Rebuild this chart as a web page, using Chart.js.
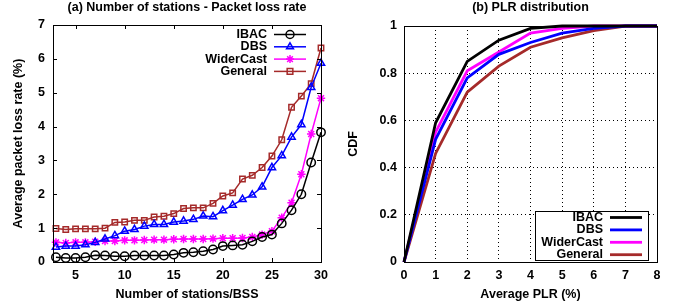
<!DOCTYPE html>
<html><head><meta charset="utf-8">
<script src="https://cdn.jsdelivr.net/npm/chart.js@4/dist/chart.umd.min.js"></script>
<style>
html,body{margin:0;padding:0;background:#fff;}
#wrap{position:relative;width:678px;height:307px;overflow:hidden;}
.c{position:absolute;top:0;width:339px;height:307px;}
</style></head><body>
<div id="wrap">
<div class="c" style="left:0"><canvas id="a"></canvas></div>
<div class="c" style="left:339px"><canvas id="b"></canvas></div>
</div>
<script>
// ---- data ----
const seriesNames = ['IBAC', 'DBS', 'WiderCast', 'General'];
const stations = [3,4,5,6,7,8,9,10,11,12,13,14,15,16,17,18,19,20,21,22,23,24,25,26,27,28,29,30];
const ibacPLR = [0.14,0.12,0.12,0.14,0.20,0.19,0.17,0.17,0.19,0.19,0.19,0.19,0.22,0.27,0.29,0.32,0.37,0.47,0.49,0.51,0.61,0.74,0.81,1.14,1.53,2.00,2.94,3.83];
const dbsPLR = [0.44,0.47,0.47,0.51,0.58,0.68,0.78,0.91,0.96,1.06,1.11,1.11,1.18,1.21,1.26,1.36,1.34,1.52,1.68,1.85,1.98,2.22,2.79,3.14,3.69,4.06,5.16,5.87];
const widerCastPLR = [0.58,0.56,0.58,0.58,0.60,0.62,0.62,0.64,0.64,0.65,0.66,0.66,0.67,0.68,0.68,0.68,0.69,0.70,0.70,0.71,0.74,0.81,0.91,1.31,1.75,2.59,3.78,4.84];
const generalPLR = [0.99,0.96,0.98,0.98,0.98,1.00,1.17,1.18,1.23,1.23,1.33,1.35,1.43,1.58,1.60,1.60,1.73,1.95,2.04,2.45,2.56,2.79,3.13,3.61,4.57,4.90,5.27,6.32];
const stationTicks = [5,10,15,20,25,30];
const plrTicksY = [0,1,2,3,4,5,6,7];

const avgPLR = [0,1,2,3,4,5,6,7,8];
const ibacCDF = [0,0.59,0.85,0.94,0.99,1,1,1,1];
const dbsCDF = [0,0.52,0.78,0.88,0.93,0.97,0.99,1,1];
const widerCastCDF = [0,0.55,0.81,0.89,0.97,0.99,1,1,1];
const generalCDF = [0,0.46,0.72,0.83,0.91,0.95,0.98,1,1];
const cdfTicksY = [0,0.2,0.4,0.6,0.8,1];

// ---- styles ----
const colors = ['#000000', '#0000ff', '#ff00ff', '#a52a2a'];
const markers = ['circle', 'triangle', 'star', 'rect'];
const FONT = "'Liberation Sans', Arial, sans-serif";
const FS = 12.5;
const fB = {family: FONT, size: FS, weight: 'bold', lineHeight: 1.2};

function pts(xs, ys){ return xs.map((x,i)=>({x:x, y:ys[i]})); }

const framePlugin = {
  id: 'frame',
  afterDatasetsDraw(chart, args, opts){
    const {ctx, chartArea: a, scales} = chart;
    ctx.save();
    ctx.strokeStyle = '#000'; ctx.lineWidth = 1;
    ctx.strokeRect(Math.round(a.left)+0.5, Math.round(a.top)+0.5, Math.round(a.right-a.left), Math.round(a.bottom-a.top));
    if (opts.innerTicks) {
      const L = 4;
      ctx.beginPath();
      scales.x.ticks.forEach(t=>{
        const px = Math.round(scales.x.getPixelForValue(t.value))+0.5;
        ctx.moveTo(px, a.bottom); ctx.lineTo(px, a.bottom-L);
        ctx.moveTo(px, a.top); ctx.lineTo(px, a.top+L);
      });
      scales.y.ticks.forEach(t=>{
        const py = Math.round(scales.y.getPixelForValue(t.value))+0.5;
        ctx.moveTo(a.left, py); ctx.lineTo(a.left+L, py);
        ctx.moveTo(a.right, py); ctx.lineTo(a.right-L, py);
      });
      ctx.stroke();
    }
    ctx.restore();
  }
};

const legendPlugin = {
  id: 'customLegend',
  afterDraw(chart, args, o){
    if (!o || !o.items) return;
    const ctx = chart.ctx;
    ctx.save();
    if (o.box) {
      ctx.fillStyle = '#fff';
      ctx.fillRect(o.box[0], o.box[1], o.box[2], o.box[3]);
      ctx.strokeStyle = '#000'; ctx.lineWidth = 1;
      ctx.strokeRect(o.box[0]+0.5, o.box[1]+0.5, o.box[2], o.box[3]);
    }
    ctx.font = "bold " + FS + "px " + FONT;
    ctx.textAlign = 'right'; ctx.textBaseline = 'middle';
    o.items.forEach((it, i)=>{
      const y = o.y0 + i*o.dy;
      ctx.fillStyle = '#000';
      ctx.fillText(it.text, o.textRight, y);
      ctx.strokeStyle = it.color; ctx.lineWidth = o.lineWidth;
      ctx.beginPath(); ctx.moveTo(o.lineX0, y); ctx.lineTo(o.lineX1, y); ctx.stroke();
      if (it.marker && Chart.helpers && Chart.helpers.drawPoint) {
        ctx.lineWidth = 1.5;
        ctx.strokeStyle = it.color; ctx.fillStyle = 'rgba(0,0,0,0)';
        Chart.helpers.drawPoint(ctx, {pointStyle: it.marker, radius: 4, borderWidth: 1.5, rotation: 0}, (o.lineX0+o.lineX1)/2, y);
      }
    });
    ctx.restore();
  }
};

// ---- chart (a) ----
const plrSeries = [ibacPLR, dbsPLR, widerCastPLR, generalPLR];
new Chart(document.getElementById('a'), {
  type: 'line',
  data: {
    datasets: plrSeries.map((ys, i)=>({
      label: seriesNames[i],
      data: pts(stations, ys),
      borderColor: colors[i],
      backgroundColor: 'rgba(0,0,0,0)',
      pointBackgroundColor: 'rgba(0,0,0,0)',
      pointBorderColor: colors[i],
      pointStyle: markers[i],
      pointRadius: i===3 ? 3.8 : 4.2,
      pointBorderWidth: 1.5,
      borderWidth: 1.5,
      tension: 0,
      clip: false
    }))
  },
  options: {
    responsive: true, maintainAspectRatio: false, animation: false,
    layout: {padding: {left: 0, right: 18, top: 0, bottom: 0}},
    plugins: {
      legend: {display: false}, tooltip: {enabled: false},
      title: {display: true, fullSize: false, text: '(a) Number of stations - Packet loss rate', color: '#000', font: fB, padding: {top: 0, bottom: 10}},
      frame: {innerTicks: true},
      customLegend: {
        items: seriesNames.map((n,i)=>({text: n, color: colors[i], marker: markers[i]})),
        textRight: 267, lineX0: 274, lineX1: 306, y0: 34.5, dy: 12.3, lineWidth: 1.5
      }
    },
    scales: {
      x: {
        type: 'linear', min: 2.7, max: 30,
        afterBuildTicks(s){ s.ticks = stationTicks.map(v=>({value: v})); },
        afterFit(s){ s.height = 45; },
        grid: {display: false, drawTicks: false},
        border: {display: false},
        ticks: {color: '#000', font: fB, padding: 6, maxRotation: 0},
        title: {display: true, text: 'Number of stations/BSS', color: '#000', font: fB, padding: {top: 5, bottom: 5}}
      },
      y: {
        type: 'linear', min: 0, max: 7,
        afterBuildTicks(s){ s.ticks = plrTicksY.map(v=>({value: v})); },
        afterFit(s){ s.width = 53; },
        grid: {display: false, drawTicks: false},
        border: {display: false},
        ticks: {color: '#000', font: fB, padding: 8},
        title: {display: true, text: 'Average packet loss rate (%)', color: '#000', font: fB, padding: {top: 11, bottom: 11}}
      }
    }
  },
  plugins: [framePlugin, legendPlugin]
});

// ---- chart (b) ----
const cdfSeries = [ibacCDF, dbsCDF, widerCastCDF, generalCDF];
const gridStyle = {display: true, drawTicks: false, color: '#000', lineWidth: 1};
new Chart(document.getElementById('b'), {
  type: 'line',
  data: {
    datasets: cdfSeries.map((ys, i)=>({
      label: seriesNames[i],
      data: pts(avgPLR, ys),
      borderColor: colors[i],
      backgroundColor: 'rgba(0,0,0,0)',
      pointRadius: 0,
      borderWidth: 2.8,
      tension: 0,
      clip: false
    }))
  },
  options: {
    responsive: true, maintainAspectRatio: false, animation: false,
    layout: {padding: {left: 0, right: 21, top: 0, bottom: 0}},
    plugins: {
      legend: {display: false}, tooltip: {enabled: false},
      title: {display: true, fullSize: false, text: '(b) PLR distribution', color: '#000', font: fB, padding: {top: 0, bottom: 11}},
      frame: {innerTicks: false},
      customLegend: {
        items: seriesNames.map((n,i)=>({text: n, color: colors[i]})),
        box: [196, 211, 113, 49],
        textRight: 264, lineX0: 271, lineX1: 303, y0: 217.5, dy: 12.4, lineWidth: 2.8
      }
    },
    scales: {
      x: {
        type: 'linear', min: 0, max: 8,
        ticks: {stepSize: 1, color: '#000', font: fB, padding: 6, maxRotation: 0},
        afterFit(s){ s.height = 45; },
        grid: gridStyle,
        border: {display: true, color: '#000', dash: [1, 3]},
        title: {display: true, text: 'Average PLR (%)', color: '#000', font: fB, padding: {top: 5, bottom: 5}}
      },
      y: {
        type: 'linear', min: 0, max: 1,
        afterBuildTicks(s){ s.ticks = cdfTicksY.map(v=>({value: v})); },
        ticks: {color: '#000', font: fB, padding: 7, callback: v => String(+(+v).toFixed(1))},
        afterFit(s){ s.width = 65; },
        grid: gridStyle,
        border: {display: true, color: '#000', dash: [1, 3]},
        title: {display: true, text: 'CDF', color: '#000', font: fB, padding: {top: 7, bottom: 7}}
      }
    }
  },
  plugins: [framePlugin, legendPlugin]
});
</script>
</body></html>
